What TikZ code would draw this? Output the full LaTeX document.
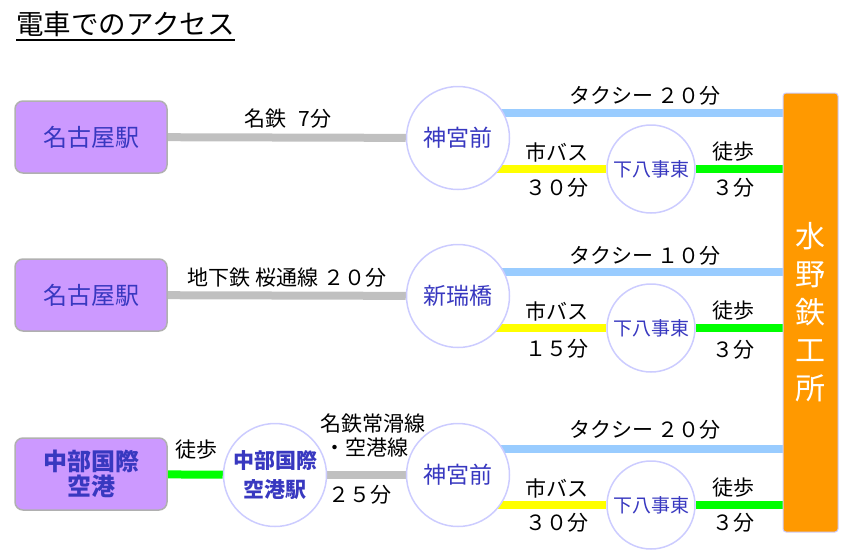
\documentclass[tikz,border=0pt]{standalone}
\usepackage{fontspec}
\setmainfont{Noto Sans CJK JP}
\usetikzlibrary{backgrounds,calc}
\definecolor{boxfill}{HTML}{CC99FF}
\definecolor{boxline}{HTML}{B0B0B0}
\definecolor{nodetext}{HTML}{3838C0}
\definecolor{ringline}{HTML}{CCCCFF}
\definecolor{railcol}{HTML}{C0C0C0}
\definecolor{taxicol}{HTML}{99CCFF}
\definecolor{buscol}{HTML}{FFFF00}
\definecolor{walkcol}{HTML}{00FF00}
\definecolor{orangecol}{HTML}{FF9900}
\tikzset{
  startbox/.style={draw=boxline, line width=1.5pt, fill=boxfill, rounded corners=8pt,
    minimum width=152pt, minimum height=72pt, inner sep=0pt, text=nodetext,
    font=\fontsize{24}{27}\selectfont, align=center},
  bigring/.style={circle, draw=ringline, line width=1.5pt, fill=white, minimum size=103pt,
    inner sep=0pt, text=nodetext, font=\fontsize{23}{26}\selectfont, align=center},
  smallring/.style={circle, draw=ringline, line width=1.5pt, fill=white, minimum size=88pt,
    inner sep=0pt, text=nodetext, font=\fontsize{19}{22}\selectfont},
  goal/.style={draw=ringline, line width=1pt, fill=orangecol, rounded corners=3pt,
    minimum width=55pt, minimum height=439pt, inner sep=0pt, text=white,
    font=\fontsize{30}{38}\selectfont, align=center},
  lbl/.style={font=\fontsize{21}{24}\selectfont, inner sep=0pt, align=center},
  rail/.style={draw=railcol, line width=8pt},
  taxi/.style={draw=taxicol, line width=8pt},
  bus/.style={draw=buscol, line width=8pt},
  walk/.style={draw=walkcol, line width=8pt},
}
\begin{document}
\begin{tikzpicture}[x=1pt,y=-1pt]
\useasboundingbox (0,0) rectangle (841,550);
% title
\node[anchor=base west, inner sep=0pt, font=\fontsize{27.5}{30}\selectfont] (title) at (16,34) {電車でのアクセス};
\draw[line width=1.3pt] ([yshift=-6pt]title.base west) -- ([yshift=-6pt]title.base east);

% goal
\node[goal] (o) at (810.5,312.5) {水\\野\\鉄\\工\\所};

% row 1
\node[startbox] (b1) at (91,137) {名古屋駅};
\node[bigring] (c1) at (458,138) {神宮前};
\node[smallring] (s1) at (651,169) {下八事東};
% row 2
\node[startbox] (b2) at (91,295) {名古屋駅};
\node[bigring] (c2) at (458,296) {新瑞橋};
\node[smallring] (s2) at (651,328) {下八事東};
% row 3
\node[startbox, font=\bfseries\fontsize{24}{27}\selectfont] (b3) at (91,474) {中部国際\\[-2pt]空港};
\node[bigring, font=\bfseries\fontsize{21}{29}\selectfont] (a3) at (275,475) {中部国際\\空港駅};
\node[bigring] (c3) at (458,475) {神宮前};
\node[smallring] (s3) at (651,505) {下八事東};

\begin{scope}[on background layer]
  % row 1
  \draw[rail] (b1) -- (c1);
  \draw[taxi] ([yshift=25pt]c1.center) -- ([yshift=25pt]c1.center -| o.west);
  \draw[bus] (c1.center |- s1) -- (s1);
  \draw[walk] (s1) -- (s1 -| o.west);
  % row 2
  \draw[rail] (b2) -- (c2);
  \draw[taxi] ([yshift=24pt]c2.center) -- ([yshift=24pt]c2.center -| o.west);
  \draw[bus] (c2.center |- s2) -- (s2);
  \draw[walk] (s2) -- (s2 -| o.west);
  % row 3
  \draw[walk] (b3) -- (a3);
  \draw[rail] (a3) -- (c3);
  \draw[taxi] ([yshift=26pt]c3.center) -- ([yshift=26pt]c3.center -| o.west);
  \draw[bus] (c3.center |- s3) -- (s3);
  \draw[walk] (s3) -- (s3 -| o.west);
\end{scope}

% labels row 1
\node[lbl] (l1a) at (288,119) {名鉄\hspace{12pt}7分};
\node[lbl] (l1b) at (645,96) {タクシー ２０分};
\node[lbl] (l1c) at (557,152) {市バス};
\node[lbl] (l1d) at (557,188) {３０分};
\node[lbl] (l1e) at (733,152) {徒歩};
\node[lbl] (l1f) at (733,188) {３分};
% labels row 2
\node[lbl] (l2a) at (287,278) {地下鉄 桜通線 ２０分};
\node[lbl] (l2b) at (645,256) {タクシー １０分};
\node[lbl] (l2c) at (557,311) {市バス};
\node[lbl] (l2d) at (557,349) {１５分};
\node[lbl] (l2e) at (733,311) {徒歩};
\node[lbl] (l2f) at (733,350) {３分};
% labels row 3
\node[lbl] (l3w) at (196,450) {徒歩};
\node[lbl] (l3a) at (373,424) {名鉄常滑線};
\node[lbl] (l3b) at (366,447) {・空港線};
\node[lbl] (l3c) at (360,495) {２５分};
\node[lbl] (l3d) at (645,430) {タクシー ２０分};
\node[lbl] (l3e) at (557,488) {市バス};
\node[lbl] (l3f) at (557,523) {３０分};
\node[lbl] (l3g) at (733,488) {徒歩};
\node[lbl] (l3h) at (733,523) {３分};
\end{tikzpicture}
\end{document}
